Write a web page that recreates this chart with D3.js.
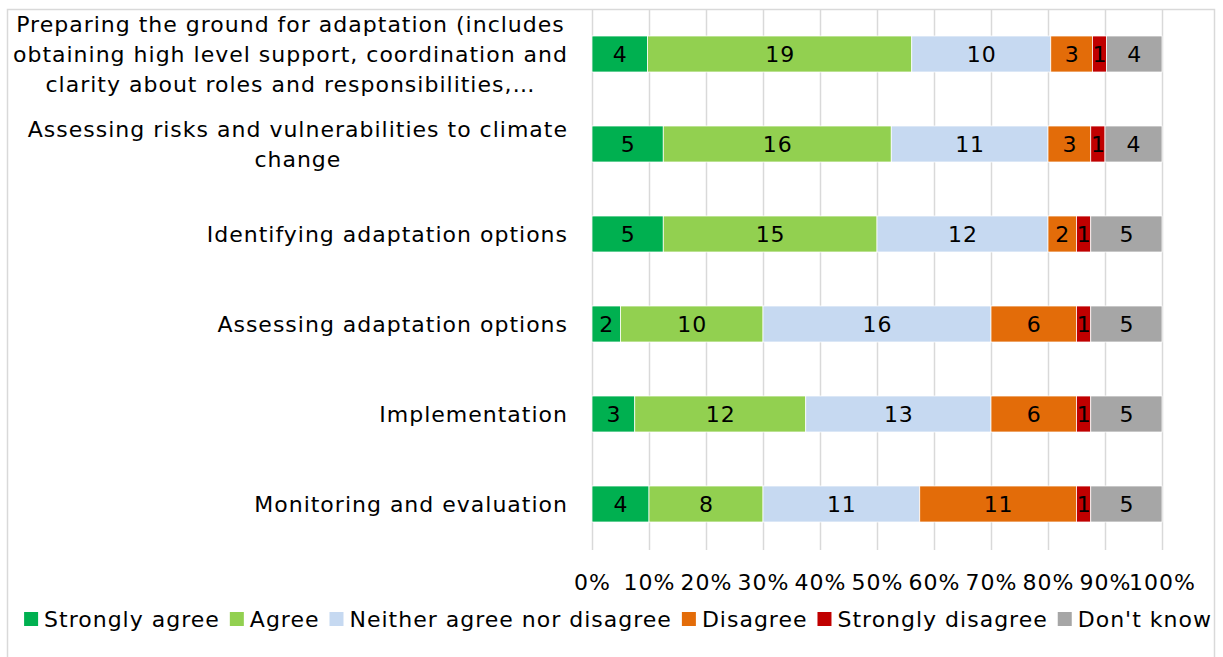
<!DOCTYPE html>
<html>
<head>
<meta charset="utf-8">
<script src="https://cdn.jsdelivr.net/npm/d3@7"></script>
<style>
  html, body { margin: 0; padding: 0; background: #fff; }
  svg { display: block; }
  text { font-family: "DejaVu Sans", Verdana, sans-serif; letter-spacing: 1px; fill: #000; }
</style>
</head>
<body>
<svg id="chart" width="1223" height="657"></svg>
<script>
// Survey stages (each label split into its display lines)
const categories = [
  ["Preparing the ground for adaptation (includes", "obtaining high level support, coordination and", "clarity about roles and responsibilities,\u2026"],
  ["Assessing risks and vulnerabilities to climate", "change"],
  ["Identifying adaptation options"],
  ["Assessing adaptation options"],
  ["Implementation"],
  ["Monitoring and evaluation"]
];

const seriesNames = ["Strongly agree", "Agree", "Neither agree nor disagree", "Disagree", "Strongly disagree", "Don't know"];
const seriesColors = ["#00B050", "#92D050", "#C6D9F1", "#E36C09", "#C00000", "#A6A6A6"];

// Number of responses per stage, one array per answer
const stronglyAgree    = [4, 5, 5, 2, 3, 4];
const agree            = [19, 16, 15, 10, 12, 8];
const neither          = [10, 11, 12, 16, 13, 11];
const disagree         = [3, 3, 2, 6, 6, 11];
const stronglyDisagree = [1, 1, 1, 1, 1, 1];
const dontKnow         = [4, 4, 5, 5, 5, 5];

const tickValues = [0, 0.1, 0.2, 0.3, 0.4, 0.5, 0.6, 0.7, 0.8, 0.9, 1.0];

const seriesValues = [stronglyAgree, agree, neither, disagree, stronglyDisagree, dontKnow];

const svg = d3.select("#chart");
const FS = 22;

// chart frame
svg.append("rect")
  .attr("x", 7.5).attr("y", 9.5)
  .attr("width", 1207).attr("height", 660)
  .attr("fill", "none").attr("stroke", "#D9D9D9").attr("stroke-width", 1.5);

const x = d3.scaleLinear().domain([0, 1]).range([592, 1162]);
const y = d3.scaleBand()
  .domain(d3.range(categories.length))
  .range([9, 549])
  .paddingInner(0.6)
  .paddingOuter(0.3);

// vertical gridlines
svg.append("g").selectAll("line")
  .data(tickValues)
  .join("line")
  .attr("x1", d => Math.round(x(d)) + 0.5)
  .attr("x2", d => Math.round(x(d)) + 0.5)
  .attr("y1", 10).attr("y2", 550)
  .attr("stroke", "#D9D9D9").attr("stroke-width", 1.5);

// build stacked rows as shares of each stage's total
const rows = categories.map((c, i) => {
  const vals = seriesValues.map(s => s[i]);
  const total = d3.sum(vals);
  let acc = 0;
  return vals.map((v, k) => {
    const seg = { row: i, series: k, value: v, x0: acc / total, x1: (acc + v) / total };
    acc += v;
    return seg;
  });
});

const segs = rows.flat();

svg.append("g").selectAll("rect")
  .data(segs)
  .join("rect")
  .attr("x", d => x(d.x0))
  .attr("width", d => x(d.x1) - x(d.x0))
  .attr("y", d => y(d.row))
  .attr("height", y.bandwidth())
  .attr("fill", d => seriesColors[d.series])
  .attr("stroke", "#fff")
  .attr("stroke-width", 0.75);

svg.append("g").selectAll("text")
  .data(segs)
  .join("text")
  .attr("x", d => (x(d.x0) + x(d.x1)) / 2 + 0.5)
  .attr("y", d => y(d.row) + y.bandwidth() / 2)
  .attr("text-anchor", "middle")
  .attr("dominant-baseline", "central")
  .attr("font-size", FS)
  .text(d => d.value);

// category labels: lines centred on each other, block right-aligned
const labelRight = 568;
const lineH = 30;
categories.forEach((lines, i) => {
  const cy = y(i) + y.bandwidth() / 2;
  const g = svg.append("g");
  const texts = lines.map((ln, j) =>
    g.append("text")
      .attr("font-size", FS)
      .attr("dominant-baseline", "central")
      .attr("text-anchor", "middle")
      .attr("y", cy + (j - (lines.length - 1) / 2) * lineH)
      .text(ln)
  );
  const widths = texts.map(t => t.node().getComputedTextLength());
  const maxW = d3.max(widths);
  texts.forEach(t => t.attr("x", labelRight - maxW / 2));
});

// percentage axis labels
const axis = d3.axisBottom(x)
  .tickValues(tickValues)
  .tickFormat(d3.format(".0%"))
  .tickSize(0)
  .tickPadding(0);
const ax = svg.append("g").attr("transform", "translate(0,570)").call(axis);
ax.select(".domain").remove();
ax.selectAll("text")
  .attr("font-size", FS)
  .attr("dy", null)
  .attr("dominant-baseline", "central")
  .attr("y", 12);
ax.attr("font-family", null).attr("font-size", null);

// legend
const legendGap = 10;
const legend = svg.append("g");
let lx = 0;
seriesNames.forEach((name, k) => {
  const g = legend.append("g");
  g.append("rect").attr("x", 0).attr("y", -7).attr("width", 14).attr("height", 14).attr("fill", seriesColors[k]);
  const t = g.append("text").attr("x", 20).attr("y", 0)
    .attr("font-size", FS).attr("dominant-baseline", "central").text(name);
  const w = 20 + t.node().getComputedTextLength();
  g.attr("transform", `translate(${lx},0)`);
  lx += w + legendGap;
});
const legendW = lx - legendGap;
legend.attr("transform", `translate(${618 - legendW / 2},619)`);
</script>
</body>
</html>
